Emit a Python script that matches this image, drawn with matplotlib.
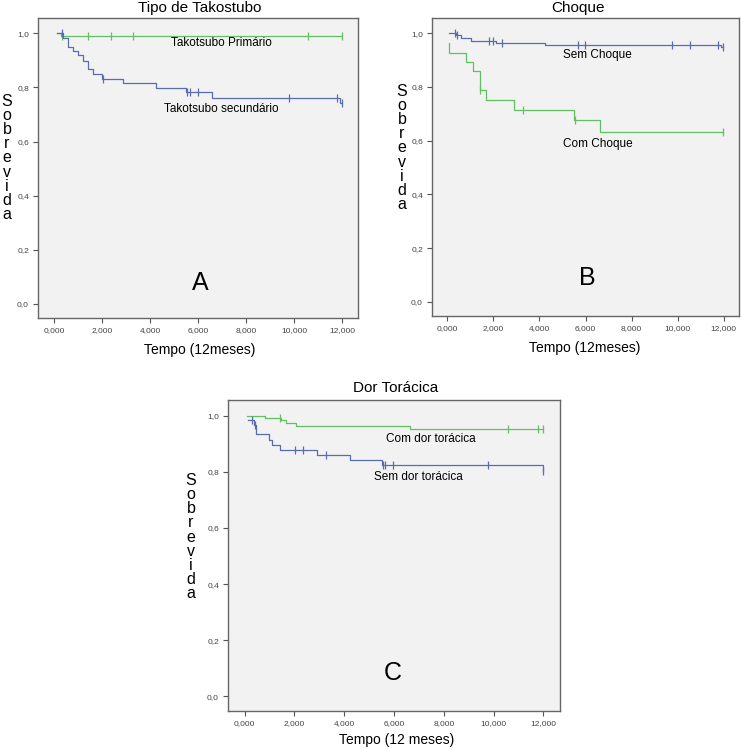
"""
Kaplan-Meier curves (sobrevida em 12 meses) - tres paineis A, B, C.
"""

import numpy as np
import matplotlib
matplotlib.use("Agg")
import matplotlib.pyplot as plt

plt.rcParams["font.family"] = ["Liberation Sans", "DejaVu Sans"]

# ---- dados (tempo, sobrevida apos o evento) ----
# Painel A - Tipo de Takotsubo
a_prim_t = [110, 300]
a_prim_s = [1.0, 0.992]
a_prim_cens = [330, 1430, 2380, 3280, 10570, 12000]

a_sec_t = [140, 360, 570, 780, 990, 1195, 1400, 1640, 1990, 2890, 4240, 5490, 6600, 11930]
a_sec_s = [1.0, 0.984, 0.951, 0.935, 0.919, 0.898, 0.867, 0.849, 0.833, 0.815, 0.797, 0.783, 0.762, 0.743]
a_sec_cens = [330, 2030, 5540, 5670, 6020, 9780, 11790, 12000]

# Painel B - Choque
b_sem_t = [60, 380, 580, 1013, 2100, 4237, 11890]
b_sem_s = [1.0, 0.993, 0.983, 0.973, 0.965, 0.958, 0.950]
b_sem_cens = [334, 406, 1820, 1994, 2357, 5677, 5997, 9750, 10545, 11772, 11960]

b_com_t = [74, 90, 809, 1126, 1416, 1662, 2905, 5506, 6620]
b_com_s = [0.965, 0.928, 0.893, 0.859, 0.788, 0.751, 0.713, 0.677, 0.631]
b_com_cens = [1416, 3265, 5564, 11960]

# Painel C - Dor toracica
c_com_t = [94, 805, 1450, 1676, 2078, 6640]
c_com_s = [1.0, 0.993, 0.985, 0.975, 0.964, 0.953]
c_com_cens = [1408, 10570, 11800, 12000]

c_sem_t = [134, 362, 470, 978, 1113, 1408, 2910, 4224, 5498, 11980]
c_sem_s = [0.986, 0.968, 0.935, 0.913, 0.897, 0.878, 0.861, 0.842, 0.825, 0.804]
c_sem_cens = [300, 400, 2011, 2346, 3258, 5565, 5632, 5967, 9760, 12000]

x_ticks = [0, 2000, 4000, 6000, 8000, 10000, 12000]
y_ticks = [0.0, 0.2, 0.4, 0.6, 0.8, 1.0]

GREEN = "#62c062"
BLUE = "#5a6cb0"
BG = "#f2f2f2"
W, H = 741, 750


def fx(px):
    return px / W


def fy(py):
    return 1 - py / H


def km_curve(ax, times, surv, cens, color):
    """Desenha a curva em degraus e as marcas de censura."""
    t_end = max(max(cens), times[-1])
    t = list(times) + [t_end]
    s = list(surv) + [surv[-1]]
    ax.step(t, s, where="post", color=color, lw=0.9)
    idx = np.searchsorted(times, cens, side="right") - 1
    idx = np.clip(idx, 0, len(surv) - 1)
    cy = np.array(surv)[idx]
    ax.plot(cens, cy, linestyle="none", marker="|", ms=5.5, mew=0.9, color=color)


def style_axes(ax):
    ax.set_facecolor(BG)
    ax.set_xlim(-667, 12667)
    ax.set_ylim(-0.053, 1.057)
    ax.set_xticks(x_ticks)
    ax.set_xticklabels([f"{v / 1000:.3f}".replace(".", ",") for v in x_ticks])
    ax.set_yticks(y_ticks)
    ax.set_yticklabels([f"{v:.1f}".replace(".", ",") for v in y_ticks])
    ax.tick_params(direction="out", length=3.5, width=0.8, colors="#555555",
                   labelsize=6, labelcolor="#444444", pad=3)
    for sp in ax.spines.values():
        sp.set_color("#666666")
        sp.set_linewidth(1.0)


fig = plt.figure(figsize=(W / 100, H / 100), dpi=100)
fig.patch.set_facecolor("white")

panels = [
    # (left, right, top, bottom) em pixels
    dict(box=(38, 358, 18, 318), title="Tipo de Takostubo", tx=200, ty=8,
         xlabel="Tempo (12meses)", lx=200, ly=350, ylx=7, yly=158, letter="A",
         letter_pos=(6083, 0.078)),
    dict(box=(432, 739, 18, 316), title="Choque", tx=578, ty=8,
         xlabel="Tempo (12meses)", lx=585, ly=348, ylx=402, yly=148, letter="B",
         letter_pos=(6059, 0.088)),
    dict(box=(228, 560, 400, 711), title="Dor Torácica", tx=396, ty=388,
         xlabel="Tempo (12 meses)", lx=397, ly=740, ylx=191, yly=537, letter="C",
         letter_pos=(5954, 0.084)),
]

axes = []
for p in panels:
    l, r, t, b = p["box"]
    ax = fig.add_axes([fx(l), fy(b), (r - l) / W, (b - t) / H])
    style_axes(ax)
    fig.text(fx(p["tx"]), fy(p["ty"]), p["title"], ha="center", va="center", fontsize=11)
    fig.text(fx(p["lx"]), fy(p["ly"]), p["xlabel"], ha="center", va="center", fontsize=10)
    fig.text(fx(p["ylx"]), fy(p["yly"]), "\n".join("Sobrevida"), ha="center", va="center",
             fontsize=11.5, linespacing=0.92)
    ax.text(*p["letter_pos"], p["letter"], ha="center", va="center", fontsize=18)
    axes.append(ax)

ax_a, ax_b, ax_c = axes

km_curve(ax_a, a_prim_t, a_prim_s, a_prim_cens, GREEN)
km_curve(ax_a, a_sec_t, a_sec_s, a_sec_cens, BLUE)
ax_a.text(6958, 0.963, "Takotsubo Primário", ha="center", va="center", fontsize=8.5)
ax_a.text(6958, 0.722, "Takotsubo secundário", ha="center", va="center", fontsize=8.5)

km_curve(ax_b, b_sem_t, b_sem_s, b_sem_cens, BLUE)
km_curve(ax_b, b_com_t, b_com_s, b_com_cens, GREEN)
ax_b.text(6536, 0.919, "Sem Choque", ha="center", va="center", fontsize=8.5)
ax_b.text(6536, 0.588, "Com Choque", ha="center", va="center", fontsize=8.5)

km_curve(ax_c, c_com_t, c_com_s, c_com_cens, GREEN)
km_curve(ax_c, c_sem_t, c_sem_s, c_sem_cens, BLUE)
ax_c.text(7483, 0.918, "Com dor torácica", ha="center", va="center", fontsize=8.5)
ax_c.text(6960, 0.783, "Sem dor torácica", ha="center", va="center", fontsize=8.5)

fig.savefig("out.png", dpi=100)
